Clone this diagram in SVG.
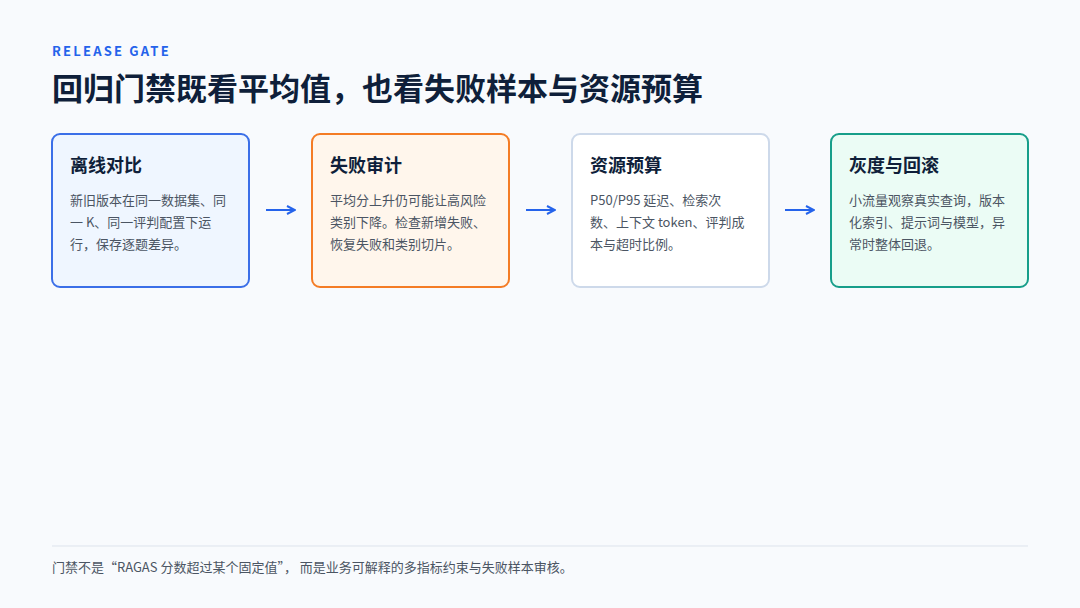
<svg xmlns="http://www.w3.org/2000/svg" width="1080" height="608" viewBox="0 0 1080 608">
<style>
text{font-family:"Noto Sans CJK SC","Noto Sans",sans-serif}
.box{stroke-width:2}
.t{font-size:18px;font-weight:700;fill:#0f1f3a}
.b{font-size:13px;fill:#4b5563}
.arr{stroke:#2563eb;stroke-width:2;fill:none}
</style>
<defs><marker id="ah" markerWidth="10" markerHeight="10" refX="9" refY="5" orient="auto" markerUnits="userSpaceOnUse"><path d="M1,1 L9,5 L1,9" fill="none" stroke="#2563eb" stroke-width="2"/></marker></defs>
<rect width="1080" height="608" fill="#f8fafd"/>
<text x="52" y="56" font-size="13" font-weight="700" fill="#2563eb" letter-spacing="2.2">RELEASE GATE</text>
<text x="52" y="100" font-size="31" font-weight="700" fill="#0f1f3a">回归门禁既看平均值，也看失败样本与资源预算</text>
<g id="n1"><rect class="box" x="52" y="134" width="197" height="153" rx="8" fill="#eff6ff" stroke="#3b6fe8"/>
<text class="t" x="70" y="172">离线对比</text>
<text class="b" x="70" y="205">新旧版本在同一数据集、同</text><text class="b" x="70" y="227">一 K、同一评判配置下运</text><text class="b" x="70" y="249">行，保存逐题差异。</text></g>
<g id="n2"><rect class="box" x="312" y="134" width="197" height="153" rx="8" fill="#fff6ec" stroke="#f47c25"/>
<text class="t" x="330" y="172">失败审计</text>
<text class="b" x="330" y="205">平均分上升仍可能让高风险</text><text class="b" x="330" y="227">类别下降。检查新增失败、</text><text class="b" x="330" y="249">恢复失败和类别切片。</text></g>
<g id="n3"><rect class="box" x="572" y="134" width="197" height="153" rx="8" fill="#ffffff" stroke="#cdd9ea"/>
<text class="t" x="590" y="172">资源预算</text>
<text class="b" x="590" y="205">P50/P95 延迟、检索次</text><text class="b" x="590" y="227">数、上下文 token、评判成</text><text class="b" x="590" y="249">本与超时比例。</text></g>
<g id="n4"><rect class="box" x="831" y="134" width="197" height="153" rx="8" fill="#ebfcf5" stroke="#179e8a"/>
<text class="t" x="849" y="172">灰度与回滚</text>
<text class="b" x="849" y="205">小流量观察真实查询，版本</text><text class="b" x="849" y="227">化索引、提示词与模型，异</text><text class="b" x="849" y="249">常时整体回退。</text></g>
<g id="connectors">
<line class="arr" x1="266" y1="210" x2="295" y2="210" marker-end="url(#ah)"/>
<line class="arr" x1="526" y1="210" x2="555" y2="210" marker-end="url(#ah)"/>
<line class="arr" x1="785" y1="210" x2="814" y2="210" marker-end="url(#ah)"/>
</g>
<line x1="52" y1="546" x2="1028" y2="546" stroke="#dde3ec" stroke-width="1"/>
<text x="52" y="572" font-size="13" fill="#4b5563">门禁不是“RAGAS 分数超过某个固定值”， 而是业务可解释的多指标约束与失败样本审核。</text>
</svg>
